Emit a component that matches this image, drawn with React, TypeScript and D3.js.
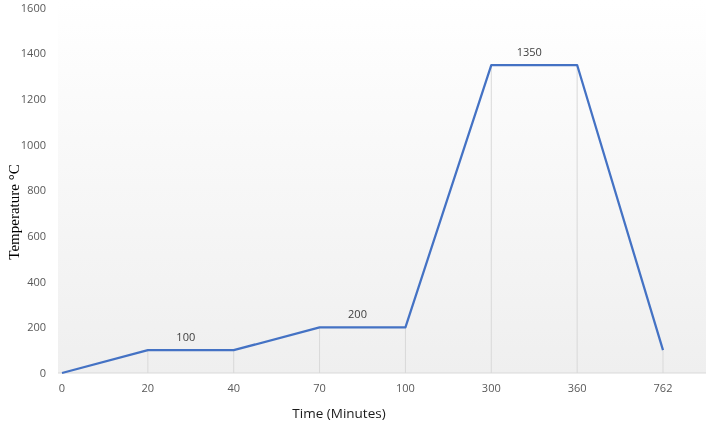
import React, { useEffect, useRef } from "react";
import * as d3 from "d3";

const times = ["0", "20", "40", "70", "100", "300", "360", "762"];
const temps = [0, 100, 100, 200, 200, 1350, 1350, 100];
const yTicks = [0, 200, 400, 600, 800, 1000, 1200, 1400, 1600];
// plateau labels: [start index, end index, text]
const plateauLabels: [number, number, string][] = [
  [1, 2, "100"],
  [3, 4, "200"],
  [5, 6, "1350"],
];

const App = () => {
  const ref = useRef<SVGSVGElement>(null);

  useEffect(() => {
    const width = 715;
    const height = 426;
    const plot = { left: 58, right: 706, top: 8, bottom: 373 };
    const svg = d3.select(ref.current);
    svg.selectAll("*").remove();

    const x = d3.scalePoint().domain(times).range([62, 663]);
    const y = d3.scaleLinear().domain([0, 1600]).range([plot.bottom, plot.top]);

    // 배경 그라데이션
    const grad = svg
      .append("defs")
      .append("linearGradient")
      .attr("id", "bg")
      .attr("x1", 0)
      .attr("y1", 0)
      .attr("x2", 0)
      .attr("y2", 1);
    grad.append("stop").attr("offset", "0%").attr("stop-color", "#ffffff");
    grad.append("stop").attr("offset", "100%").attr("stop-color", "#efefef");

    svg
      .append("rect")
      .attr("x", plot.left)
      .attr("y", 0)
      .attr("width", plot.right - plot.left)
      .attr("height", plot.bottom)
      .attr("fill", "url(#bg)");

    // 드롭 라인
    svg
      .append("g")
      .selectAll("line")
      .data(times)
      .enter()
      .append("line")
      .attr("x1", (d) => x(d)!)
      .attr("x2", (d) => x(d)!)
      .attr("y1", (d, i) => y(temps[i]))
      .attr("y2", y(0))
      .attr("stroke", "#d9d9d9")
      .attr("stroke-width", 1);

    // x축 선
    svg
      .append("line")
      .attr("x1", plot.left)
      .attr("x2", plot.right)
      .attr("y1", y(0))
      .attr("y2", y(0))
      .attr("stroke", "#d9d9d9")
      .attr("stroke-width", 1);

    const tickFont = "'Open Sans', 'Liberation Sans', sans-serif";

    svg
      .append("g")
      .selectAll("text")
      .data(yTicks)
      .enter()
      .append("text")
      .attr("x", 46)
      .attr("y", (d) => y(d))
      .attr("dy", "0.35em")
      .attr("text-anchor", "end")
      .attr("font-family", tickFont)
      .attr("font-size", 11)
      .attr("fill", "#595959")
      .text((d) => d);

    svg
      .append("g")
      .selectAll("text")
      .data(times)
      .enter()
      .append("text")
      .attr("x", (d) => x(d)!)
      .attr("y", 388)
      .attr("dy", "0.35em")
      .attr("text-anchor", "middle")
      .attr("font-family", tickFont)
      .attr("font-size", 11)
      .attr("fill", "#595959")
      .text((d) => d);

    // 라인
    const line = d3
      .line<number>()
      .x((d, i) => x(times[i])!)
      .y((d) => y(d));

    svg
      .append("path")
      .datum(temps)
      .attr("d", line)
      .attr("fill", "none")
      .attr("stroke", "#4472c4")
      .attr("stroke-width", 2.25)
      .attr("stroke-linejoin", "round");

    // 데이터 라벨
    svg
      .append("g")
      .selectAll("text")
      .data(plateauLabels)
      .enter()
      .append("text")
      .attr("x", (d) => (x(times[d[0]])! + x(times[d[1]])!) / 2 - 5)
      .attr("y", (d) => y(temps[d[0]]) - 13)
      .attr("dy", "0.35em")
      .attr("text-anchor", "middle")
      .attr("font-family", tickFont)
      .attr("font-size", 11)
      .attr("fill", "#404040")
      .text((d) => d[2]);

    // 축 제목
    svg
      .append("text")
      .attr("x", 339)
      .attr("y", 413)
      .attr("dy", "0.35em")
      .attr("text-anchor", "middle")
      .attr("font-family", tickFont)
      .attr("font-size", 13.5)
      .attr("fill", "#1a1a1a")
      .text("Time (Minutes)");

    svg
      .append("text")
      .attr("transform", "translate(14, 212) rotate(-90)")
      .attr("dy", "0.35em")
      .attr("text-anchor", "middle")
      .attr("font-family", "'Liberation Serif', 'DejaVu Serif', serif")
      .attr("font-size", 15)
      .attr("fill", "#000")
      .text("Temperature  \u00B0C");

    svg.attr("width", width).attr("height", height);
  }, []);

  return (
    <div>
      <svg
        ref={ref}
        style={{ display: "block", position: "fixed", left: 0, top: 0 }}
      />
    </div>
  );
};

export default App;
